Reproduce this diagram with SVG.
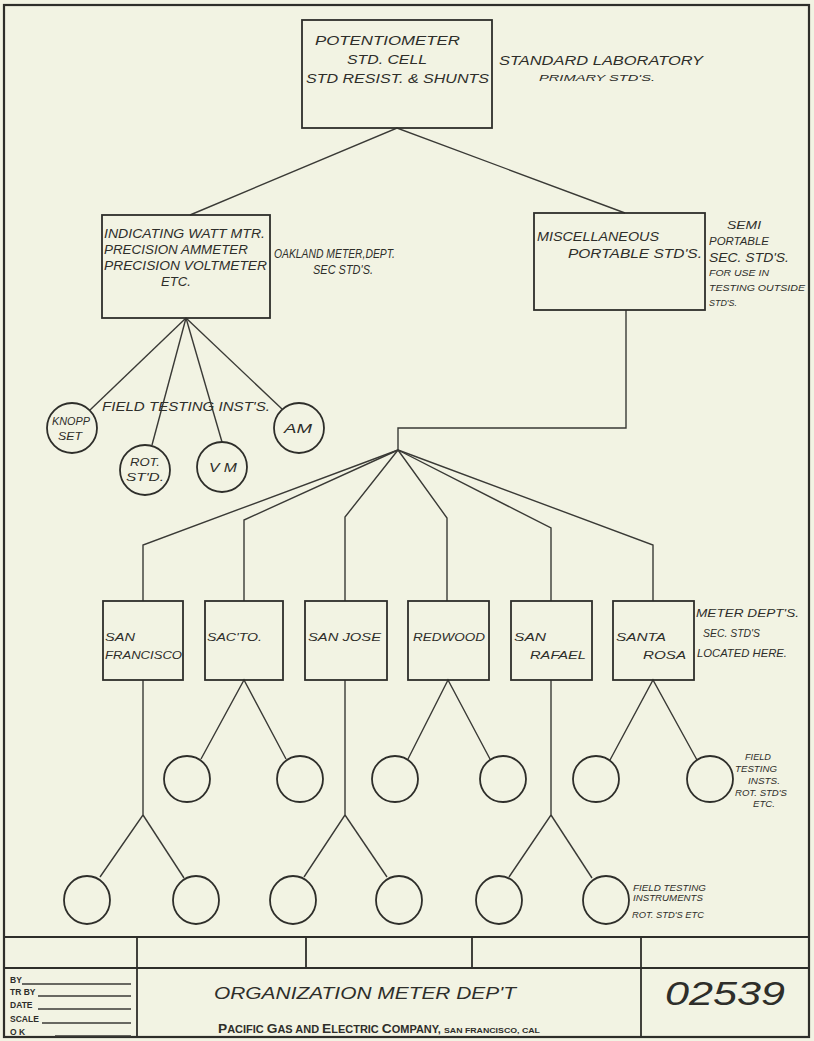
<svg xmlns="http://www.w3.org/2000/svg" width="814" height="1041" viewBox="0 0 814 1041">
<style>
.bg{fill:#f2f3e3}
.ln{fill:none;stroke:#3a3a36;stroke-width:1.4}
.bx{fill:none;stroke:#2e2e2a;stroke-width:1.8}
.fr{fill:none;stroke:#2e2e2a;stroke-width:2.2}
text{font-family:"Liberation Sans",Arial,sans-serif;fill:#2e2e2a}
.t{font-style:italic;font-size:12.5px}
.s{font-size:9.5px}
.m{font-size:11.5px}
.tb{font-size:8.5px;font-weight:bold}
.big{font-size:16px}
.num{font-size:33px}
</style>
<rect class="bg" x="0" y="0" width="814" height="1041"/>
<rect class="fr" x="4" y="5" width="805" height="1032"/>

<g id="connectors" class="ln">
<polyline points="190,215 397,128 625,213"/>
<line x1="186" y1="318" x2="90" y2="410"/>
<line x1="186" y1="318" x2="152" y2="445"/>
<line x1="186" y1="318" x2="222" y2="442"/>
<line x1="186" y1="318" x2="282" y2="409"/>
<polyline points="626,310 626,428 398,428 398,450"/>
<polyline points="398,450 143,545 143,601"/>
<polyline points="398,450 244,520 244,601"/>
<polyline points="398,450 345,517 345,601"/>
<polyline points="398,450 447,518 447,601"/>
<polyline points="398,450 551,528 551,601"/>
<polyline points="398,450 653,545 653,601"/>
<polyline points="201,759 244,680 286,759"/>
<polyline points="408,759 448,680 490,759"/>
<polyline points="610,760 653,680 697,760"/>
<polyline points="143,680 143,815 100,877"/>
<line x1="143" y1="815" x2="184" y2="878"/>
<polyline points="345,680 345,815 304,877"/>
<line x1="345" y1="815" x2="387" y2="877"/>
<polyline points="551,680 551,815 509,877"/>
<line x1="551" y1="815" x2="592" y2="878"/>
</g>

<g id="primary">
<rect class="bx" x="302" y="20" width="190" height="108"/>
<text class="t" x="315" y="45" textLength="145" lengthAdjust="spacingAndGlyphs">POTENTIOMETER</text>
<text class="t" x="347" y="64" textLength="80" lengthAdjust="spacingAndGlyphs">STD. CELL</text>
<text class="t" x="306" y="83" textLength="183" lengthAdjust="spacingAndGlyphs">STD RESIST. &amp; SHUNTS</text>
</g>
<g id="primary-note">
<text class="t" x="499" y="65" textLength="204" lengthAdjust="spacingAndGlyphs">STANDARD LABORATORY</text>
<text class="t s" x="539" y="81" textLength="116" lengthAdjust="spacingAndGlyphs">PRIMARY STD'S.</text>
</g>

<g id="oakland">
<rect class="bx" x="102" y="215" width="168" height="103"/>
<text class="t" x="104" y="238" textLength="161" lengthAdjust="spacingAndGlyphs">INDICATING WATT MTR.</text>
<text class="t" x="104" y="254" textLength="144" lengthAdjust="spacingAndGlyphs">PRECISION AMMETER</text>
<text class="t" x="104" y="270" textLength="163" lengthAdjust="spacingAndGlyphs">PRECISION VOLTMETER</text>
<text class="t" x="161" y="286" textLength="30" lengthAdjust="spacingAndGlyphs">ETC.</text>
</g>
<g id="oakland-note">
<text class="t" x="274" y="258" textLength="121" lengthAdjust="spacingAndGlyphs">OAKLAND METER,DEPT.</text>
<text class="t" x="313" y="274" textLength="60" lengthAdjust="spacingAndGlyphs">SEC STD'S.</text>
</g>

<g id="misc">
<rect class="bx" x="534" y="213" width="171" height="97"/>
<text class="t" x="537" y="241" textLength="122" lengthAdjust="spacingAndGlyphs">MISCELLANEOUS</text>
<text class="t" x="568" y="258" textLength="134" lengthAdjust="spacingAndGlyphs">PORTABLE STD'S.</text>
</g>
<g id="misc-note">
<text class="t m" x="727" y="229" textLength="34" lengthAdjust="spacingAndGlyphs">SEMI</text>
<text class="t m" x="709" y="245" textLength="60" lengthAdjust="spacingAndGlyphs">PORTABLE</text>
<text class="t" x="709" y="262" textLength="80" lengthAdjust="spacingAndGlyphs">SEC. STD'S.</text>
<text class="t s" x="709" y="276" textLength="60" lengthAdjust="spacingAndGlyphs">FOR USE IN</text>
<text class="t s" x="709" y="291" textLength="96" lengthAdjust="spacingAndGlyphs">TESTING OUTSIDE</text>
<text class="t s" x="709" y="306" textLength="28" lengthAdjust="spacingAndGlyphs">STD'S.</text>
</g>

<g id="field-left">
<text class="t" x="102" y="411" textLength="168" lengthAdjust="spacingAndGlyphs">FIELD TESTING INST'S.</text>
</g>
<g id="knopp">
<circle class="bx" cx="72" cy="428" r="25"/>
<text class="t m" x="52" y="425" textLength="38" lengthAdjust="spacingAndGlyphs">KNOPP</text>
<text class="t m" x="58" y="440" textLength="24" lengthAdjust="spacingAndGlyphs">SET</text>
</g>
<g id="rot">
<circle class="bx" cx="145" cy="470" r="25"/>
<text class="t m" x="130" y="466" textLength="30" lengthAdjust="spacingAndGlyphs">ROT.</text>
<text class="t m" x="126" y="481" textLength="38" lengthAdjust="spacingAndGlyphs">ST'D.</text>
</g>
<g id="vm">
<circle class="bx" cx="222" cy="467" r="25"/>
<text class="t" x="209" y="472" textLength="28" lengthAdjust="spacingAndGlyphs">V M</text>
</g>
<g id="am">
<circle class="bx" cx="299" cy="428" r="25"/>
<text class="t" x="284" y="433" textLength="28" lengthAdjust="spacingAndGlyphs">AM</text>
</g>

<g id="sf">
<rect class="bx" x="103" y="601" width="80" height="79"/>
<text class="t m" x="105" y="641" textLength="30" lengthAdjust="spacingAndGlyphs">SAN</text>
<text class="t m" x="105" y="659" textLength="77" lengthAdjust="spacingAndGlyphs">FRANCISCO</text>
</g>
<g id="sacto">
<rect class="bx" x="205" y="601" width="78" height="79"/>
<text class="t m" x="207" y="641" textLength="55" lengthAdjust="spacingAndGlyphs">SAC'TO.</text>
</g>
<g id="sanjose">
<rect class="bx" x="305" y="601" width="82" height="79"/>
<text class="t m" x="308" y="641" textLength="73" lengthAdjust="spacingAndGlyphs">SAN JOSE</text>
</g>
<g id="redwood">
<rect class="bx" x="408" y="601" width="81" height="79"/>
<text class="t m" x="413" y="641" textLength="72" lengthAdjust="spacingAndGlyphs">REDWOOD</text>
</g>
<g id="sanrafael">
<rect class="bx" x="511" y="601" width="81" height="79"/>
<text class="t m" x="514" y="641" textLength="32" lengthAdjust="spacingAndGlyphs">SAN</text>
<text class="t m" x="530" y="659" textLength="56" lengthAdjust="spacingAndGlyphs">RAFAEL</text>
</g>
<g id="santarosa">
<rect class="bx" x="613" y="601" width="81" height="79"/>
<text class="t m" x="616" y="641" textLength="50" lengthAdjust="spacingAndGlyphs">SANTA</text>
<text class="t m" x="643" y="659" textLength="43" lengthAdjust="spacingAndGlyphs">ROSA</text>
</g>
<g id="meter-note">
<text class="t m" x="696" y="617" textLength="103" lengthAdjust="spacingAndGlyphs">METER DEPT'S.</text>
<text class="t m" x="703" y="637" textLength="57" lengthAdjust="spacingAndGlyphs">SEC. STD'S</text>
<text class="t m" x="697" y="657" textLength="90" lengthAdjust="spacingAndGlyphs">LOCATED HERE.</text>
</g>

<g id="mid-circles">
<circle class="bx" cx="187" cy="779" r="23"/>
<circle class="bx" cx="300" cy="779" r="23"/>
<circle class="bx" cx="395" cy="779" r="23"/>
<circle class="bx" cx="503" cy="779" r="23"/>
<circle class="bx" cx="596" cy="779" r="23"/>
<circle class="bx" cx="710" cy="779" r="23"/>
</g>
<g id="mid-note">
<text class="t s" x="745" y="760" textLength="26" lengthAdjust="spacingAndGlyphs">FIELD</text>
<text class="t s" x="735" y="772" textLength="42" lengthAdjust="spacingAndGlyphs">TESTING</text>
<text class="t s" x="748" y="784" textLength="32" lengthAdjust="spacingAndGlyphs">INSTS.</text>
<text class="t s" x="735" y="796" textLength="52" lengthAdjust="spacingAndGlyphs">ROT. STD'S</text>
<text class="t s" x="753" y="807" textLength="22" lengthAdjust="spacingAndGlyphs">ETC.</text>
</g>

<g id="bottom-circles">
<ellipse class="bx" cx="87" cy="900" rx="23" ry="24"/>
<ellipse class="bx" cx="196" cy="900" rx="23" ry="24"/>
<ellipse class="bx" cx="293" cy="900" rx="23" ry="24"/>
<ellipse class="bx" cx="399" cy="900" rx="23" ry="24"/>
<ellipse class="bx" cx="499" cy="900" rx="23" ry="24"/>
<ellipse class="bx" cx="606" cy="900" rx="23" ry="24"/>
</g>
<g id="bottom-note">
<text class="t s" x="633" y="891" textLength="73" lengthAdjust="spacingAndGlyphs">FIELD TESTING</text>
<text class="t s" x="633" y="901" textLength="70" lengthAdjust="spacingAndGlyphs">INSTRUMENTS</text>
<text class="t s" x="632" y="918" textLength="72" lengthAdjust="spacingAndGlyphs">ROT. STD'S ETC</text>
</g>

<g id="title-block">
<line class="fr" x1="4" y1="937" x2="809" y2="937"/>
<line class="bx" x1="4" y1="968" x2="809" y2="968"/>
<line class="bx" x1="137" y1="937" x2="137" y2="1037"/>
<line class="bx" x1="306" y1="937" x2="306" y2="968"/>
<line class="bx" x1="472" y1="937" x2="472" y2="968"/>
<line class="bx" x1="641" y1="937" x2="641" y2="1037"/>
<text class="tb" x="10" y="983">BY</text>
<text class="tb" x="10" y="995">TR BY</text>
<text class="tb" x="10" y="1008">DATE</text>
<text class="tb" x="10" y="1022">SCALE</text>
<text class="tb" x="10" y="1035">O K</text>
<g class="ln" stroke-width="0.8">
<line x1="22" y1="984" x2="131" y2="984"/>
<line x1="38" y1="996" x2="131" y2="996"/>
<line x1="38" y1="1009" x2="131" y2="1009"/>
<line x1="42" y1="1023" x2="131" y2="1023"/>
<line x1="55" y1="1036" x2="131" y2="1036"/>
</g>
<text class="t big" x="214" y="999" textLength="302" lengthAdjust="spacingAndGlyphs">ORGANIZATION METER DEP'T</text>
<text x="218" y="1033" font-size="10" font-weight="bold" textLength="322" lengthAdjust="spacingAndGlyphs"><tspan font-size="12.5">P</tspan>ACIFIC <tspan font-size="12.5">G</tspan>AS AND <tspan font-size="12.5">E</tspan>LECTRIC <tspan font-size="12.5">C</tspan>OMPANY, <tspan font-size="8">SAN FRANCISCO, CAL</tspan></text>
<text class="t num" x="665" y="1005" textLength="120" lengthAdjust="spacingAndGlyphs">02539</text>
</g>
</svg>
